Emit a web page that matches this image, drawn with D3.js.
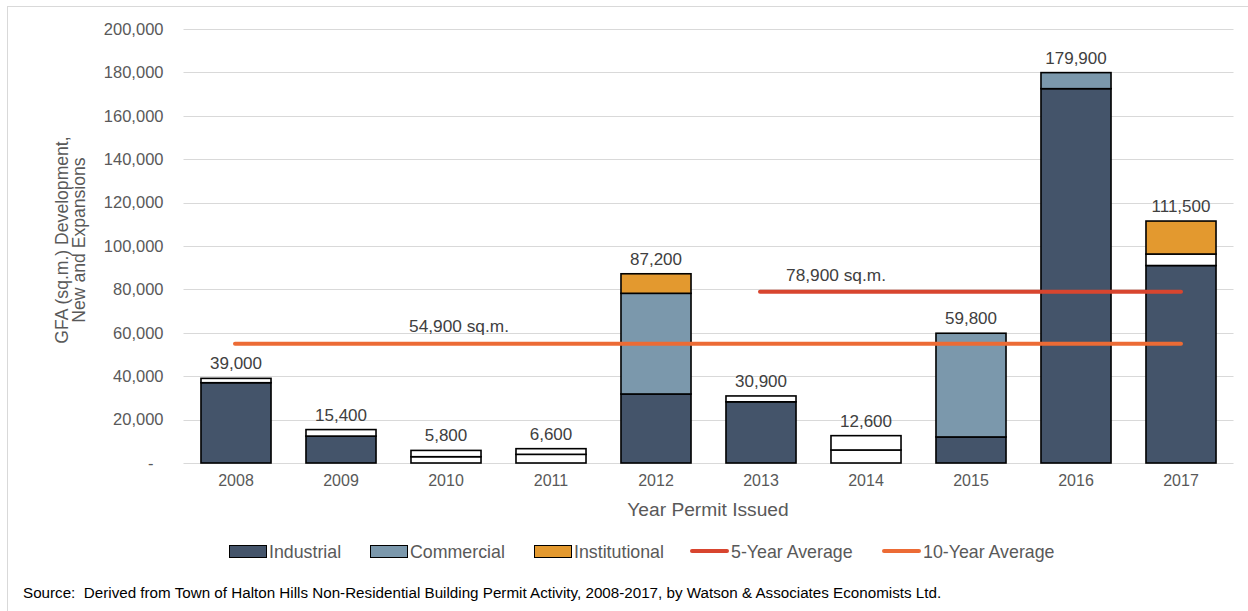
<!DOCTYPE html>
<html>
<head>
<meta charset="utf-8">
<script src="https://cdn.jsdelivr.net/npm/d3@7/dist/d3.min.js"></script>
<style>
  html, body { margin: 0; padding: 0; background: #fff; }
  svg { display: block; font-family: "Liberation Sans", Arial, sans-serif; }
</style>
</head>
<body>
<svg id="chart" width="1248" height="611"></svg>
<script>
// Non-residential GFA by permit year (sq.m.)
const years = ["2008", "2009", "2010", "2011", "2012", "2013", "2014", "2015", "2016", "2017"];
const industrial    = [37000, 12400, 2900, 4000, 31800, 28200, 6000, 12000, 172500, 91000];
const commercial    = [ 2000,  3000, 2900, 2600, 46400,  2700, 6600, 47800,   7400,  5300];
const institutional = [    0,     0,    0,    0,  9000,     0,    0,     0,      0, 15200];
const totals        = [39000, 15400, 5800, 6600, 87200, 30900, 12600, 59800, 179900, 111500];
const yTicks = [0, 20000, 40000, 60000, 80000, 100000, 120000, 140000, 160000, 180000, 200000];

// Averages over the whole period and over the last five years
const tenYearYears = years;
const fiveYearYears = years.slice(5);

const seriesKeys = ["Industrial", "Commercial", "Institutional"];
const seriesValues = { Industrial: industrial, Commercial: commercial, Institutional: institutional };
const fills = { Industrial: "#44546a", Commercial: "#7b98ac", Institutional: "#e3992f" };
// segments that are drawn without a fill
const unshaded = { "2008": ["Commercial"], "2009": ["Commercial"], "2010": ["Industrial", "Commercial"],
                   "2011": ["Industrial", "Commercial"], "2013": ["Commercial"], "2014": ["Industrial", "Commercial"],
                   "2017": ["Commercial"] };

const rows = years.map((y, i) => {
  const r = { year: y };
  seriesKeys.forEach(k => r[k] = seriesValues[k][i]);
  return r;
});

const svg = d3.select("#chart");
const W = 1248, H = 611;
const margin = { left: 183.5, right: 14.5, top: 29, bottom: 148 };
const plotW = W - margin.left - margin.right;
const plotH = H - margin.top - margin.bottom;

// outer frame
svg.append("rect").attr("x", 7.5).attr("y", 6.5).attr("width", 1260).attr("height", 620)
  .attr("fill", "none").attr("stroke", "#d9d9d9").attr("stroke-width", 1);

const g = svg.append("g").attr("transform", `translate(${margin.left},${margin.top})`);

const x = d3.scaleBand().domain(years).range([0, plotW]).paddingInner(0.333).paddingOuter(0.1665);
const y = d3.scaleLinear().domain([0, 200000]).range([plotH, 0]);

// gridlines
g.append("g").selectAll("line").data(yTicks).join("line")
  .attr("x1", 0).attr("x2", plotW)
  .attr("y1", d => Math.round(y(d)) + 0.5).attr("y2", d => Math.round(y(d)) + 0.5)
  .attr("stroke", "#d9d9d9").attr("stroke-width", 1);

// y axis labels
const yAxis = d3.axisLeft(y).tickValues(yTicks).tickSize(0).tickPadding(20)
  .tickFormat(d => d === 0 ? "-" : d3.format(",")(d));
g.append("g").call(yAxis)
  .call(a => a.select(".domain").remove())
  .call(a => a.selectAll("text").attr("fill", "#595959").attr("font-size", 16.5)
    .attr("font-family", "Liberation Sans, Arial, sans-serif")
    .attr("dx", d => d === 0 ? -10 : 0));

// x axis labels
const xAxis = d3.axisBottom(x).tickSize(0).tickPadding(12);
g.append("g").attr("transform", `translate(0,${plotH})`).call(xAxis)
  .call(a => a.select(".domain").remove())
  .call(a => a.selectAll("text").attr("fill", "#595959").attr("font-size", 16)
    .attr("font-family", "Liberation Sans, Arial, sans-serif"));

// stacked bars
const stack = d3.stack().keys(seriesKeys);
const layers = stack(rows);
g.append("g").selectAll("g").data(layers).join("g")
  .each(function (layer) {
    d3.select(this).selectAll("rect").data(layer.filter(d => d[1] - d[0] > 0)).join("rect")
      .attr("x", d => x(d.data.year))
      .attr("width", x.bandwidth())
      .attr("y", d => y(d[1]))
      .attr("height", d => y(d[0]) - y(d[1]))
      .attr("fill", d => (unshaded[d.data.year] || []).includes(layer.key) ? "#ffffff" : fills[layer.key])
      .attr("stroke", "#000").attr("stroke-width", 1.6);
  });

// total labels
g.append("g").selectAll("text").data(years).join("text")
  .attr("x", d => x(d) + x.bandwidth() / 2)
  .attr("y", (d, i) => y(totals[i]) - 9)
  .attr("text-anchor", "middle").attr("fill", "#404040").attr("font-size", 17)
  .text((d, i) => d3.format(",")(totals[i]));

// average lines
const totalByYear = Object.fromEntries(years.map((yr, i) => [yr, totals[i]]));
const avg10 = Math.round(d3.mean(tenYearYears, yr => totalByYear[yr]) / 100) * 100;
const avg5 = Math.round(d3.mean(fiveYearYears, yr => totalByYear[yr]) / 100) * 100;
const cx = yr => x(yr) + x.bandwidth() / 2;

const averages = [
  { years: tenYearYears, value: avg10, color: "#ec6b35", labelX: 459, labelDy: -11.5 },
  { years: fiveYearYears, value: avg5, color: "#d8452f", labelX: 836, labelDy: -11 }
];
averages.forEach(a => {
  g.append("line")
    .attr("x1", cx(a.years[0]) - 1).attr("x2", cx(a.years[a.years.length - 1]))
    .attr("y1", y(a.value)).attr("y2", y(a.value))
    .attr("stroke", a.color).attr("stroke-width", 4).attr("stroke-linecap", "round");
  g.append("text")
    .attr("x", a.labelX - margin.left).attr("y", y(a.value) + a.labelDy)
    .attr("text-anchor", "middle").attr("fill", "#404040").attr("font-size", 17.3)
    .text(d3.format(",")(a.value) + " sq.m.");
});

// axis titles
svg.append("text").attr("x", 708).attr("y", 516)
  .attr("text-anchor", "middle").attr("fill", "#595959").attr("font-size", 19.2)
  .text("Year Permit Issued");

const yTitle = svg.append("text").attr("transform", "translate(0,240) rotate(-90)")
  .attr("text-anchor", "middle").attr("fill", "#595959").attr("font-size", 17.6);
yTitle.append("tspan").attr("x", 0).attr("y", 68).text("GFA (sq.m.) Development,");
yTitle.append("tspan").attr("x", 0).attr("y", 85).text("New and Expansions");

// legend
const legendItems = [
  { label: "Industrial", type: "box", color: fills.Industrial, x: 229 },
  { label: "Commercial", type: "box", color: fills.Commercial, x: 370 },
  { label: "Institutional", type: "box", color: fills.Institutional, x: 534 },
  { label: "5-Year Average", type: "line", color: "#d8452f", x: 690 },
  { label: "10-Year Average", type: "line", color: "#ec6b35", x: 882 }
];
const legend = svg.append("g").selectAll("g").data(legendItems).join("g")
  .attr("transform", d => `translate(${d.x},551)`);
legend.filter(d => d.type === "box").append("rect")
  .attr("x", 0.5).attr("y", -5.5).attr("width", 37).attr("height", 12)
  .attr("fill", d => d.color).attr("stroke", "#000").attr("stroke-width", 1);
legend.filter(d => d.type === "line").append("line")
  .attr("x1", 2).attr("x2", 37).attr("y1", 0).attr("y2", 0)
  .attr("stroke", d => d.color).attr("stroke-width", 4).attr("stroke-linecap", "round");
legend.append("text")
  .attr("x", d => d.type === "box" ? 40 : 41).attr("y", 6.5)
  .attr("fill", "#595959").attr("font-size", 17.8)
  .text(d => d.label);

// source note
svg.append("text").attr("x", 23).attr("y", 598).attr("fill", "#000").attr("font-size", 15.2)
  .style("white-space", "pre")
  .text("Source:  Derived from Town of Halton Hills Non-Residential Building Permit Activity, 2008-2017, by Watson & Associates Economists Ltd.");
</script>
</body>
</html>
